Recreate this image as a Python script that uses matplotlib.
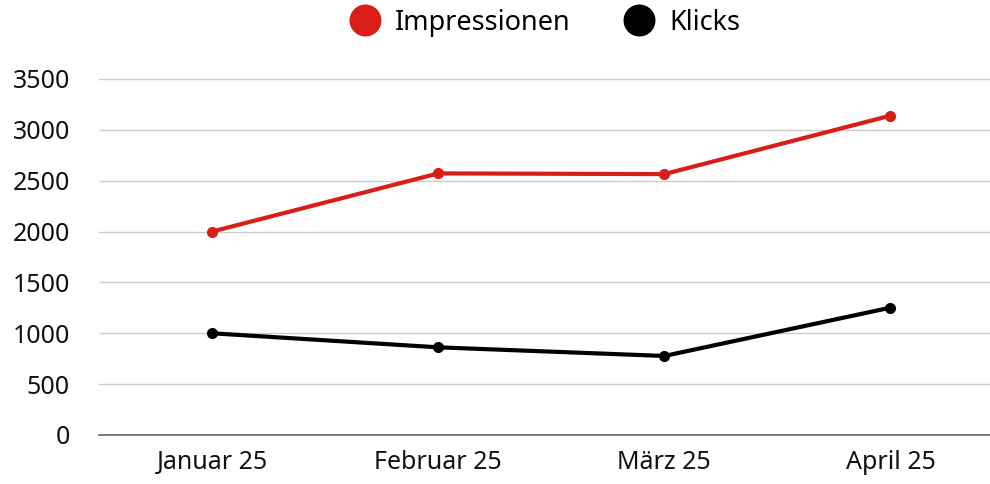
import matplotlib
matplotlib.use("Agg")
import matplotlib.pyplot as plt
from matplotlib.lines import Line2D

categories = ["Januar 25", "Februar 25", "März 25", "April 25"]
impressionen = [2000, 2572, 2565, 3140]
klicks = [1000, 862, 777, 1252]
yticks = [0, 500, 1000, 1500, 2000, 2500, 3000, 3500]

RED = "#D91E18"
BLACK = "#000000"

plt.rcParams["font.family"] = ["Noto Sans", "DejaVu Sans"]

fig = plt.figure(figsize=(9.9, 4.84), dpi=100)
ax = fig.add_axes([99 / 990, 49 / 484, 891 / 990, (435 - 79) / 484])

x = list(range(len(categories)))
ax.plot(x, impressionen, color=RED, lw=3, marker="o", ms=7, zorder=3,
        solid_capstyle="round")
ax.plot(x, klicks, color=BLACK, lw=3, marker="o", ms=7, zorder=3,
        solid_capstyle="round")

ax.set_xlim(-0.5, 3.44)
ax.set_ylim(0, 3500)
ax.set_yticks(yticks)
ax.set_yticklabels([str(v) for v in yticks])
ax.set_xticks(x)
ax.set_xticklabels(categories)

for s in ["top", "right", "left"]:
    ax.spines[s].set_visible(False)
ax.spines["bottom"].set_color("#666666")
ax.spines["bottom"].set_linewidth(1.2)
ax.grid(axis="y", color="#cccccc", lw=1)
ax.set_axisbelow(True)
ax.tick_params(axis="both", length=0, labelsize=18, colors="#111111")
ax.tick_params(axis="y", pad=21)
ax.tick_params(axis="x", pad=11)

handles = [
    Line2D([], [], ls="none", marker="o", ms=22, color=RED, label="Impressionen"),
    Line2D([], [], ls="none", marker="o", ms=22, color=BLACK, label="Klicks"),
]
fig.legend(handles=handles, loc="center", bbox_to_anchor=(0.549, 0.953),
           ncol=2, frameon=False, fontsize=19.5, handletextpad=0.45,
           columnspacing=1.9, handlelength=1.3)

fig.savefig("out.png", dpi=100)
